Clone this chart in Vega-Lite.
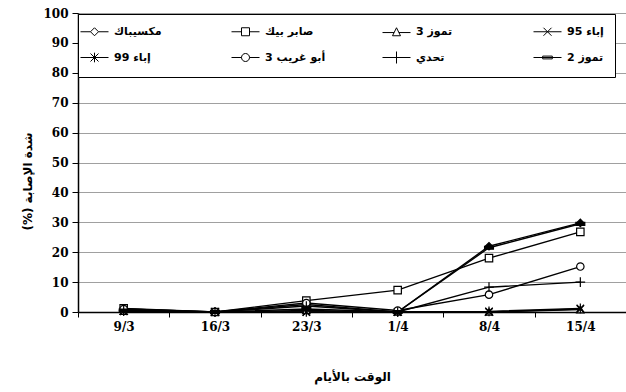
{
  "$schema": "https://vega.github.io/schema/vega-lite/v6.json",
  "width": 548,
  "height": 299,
  "autosize": "none",
  "padding": {"left": 78, "top": 13, "right": 0, "bottom": 80},
  "background": "white",
  "config": {"view": {"stroke": null}, "font": "Liberation Serif"},
  "data": {"values": [
    {"date": "9/3", "variety": "مكسيباك", "value": 1},
    {"date": "16/3", "variety": "مكسيباك", "value": 0},
    {"date": "23/3", "variety": "مكسيباك", "value": 2.5},
    {"date": "1/4", "variety": "مكسيباك", "value": 0},
    {"date": "8/4", "variety": "مكسيباك", "value": 22},
    {"date": "15/4", "variety": "مكسيباك", "value": 29.8},
    {"date": "9/3", "variety": "صابر بيك", "value": 1.2},
    {"date": "16/3", "variety": "صابر بيك", "value": 0},
    {"date": "23/3", "variety": "صابر بيك", "value": 3.8},
    {"date": "1/4", "variety": "صابر بيك", "value": 7.3},
    {"date": "8/4", "variety": "صابر بيك", "value": 18},
    {"date": "15/4", "variety": "صابر بيك", "value": 26.8},
    {"date": "9/3", "variety": "تموز 3", "value": 0.3},
    {"date": "16/3", "variety": "تموز 3", "value": 0},
    {"date": "23/3", "variety": "تموز 3", "value": 0.5},
    {"date": "1/4", "variety": "تموز 3", "value": 0},
    {"date": "8/4", "variety": "تموز 3", "value": 0},
    {"date": "15/4", "variety": "تموز 3", "value": 0.8},
    {"date": "9/3", "variety": "إباء 95", "value": 0.2},
    {"date": "16/3", "variety": "إباء 95", "value": 0},
    {"date": "23/3", "variety": "إباء 95", "value": 0},
    {"date": "1/4", "variety": "إباء 95", "value": 0},
    {"date": "8/4", "variety": "إباء 95", "value": 0},
    {"date": "15/4", "variety": "إباء 95", "value": 1},
    {"date": "9/3", "variety": "إباء 99", "value": 0.3},
    {"date": "16/3", "variety": "إباء 99", "value": 0},
    {"date": "23/3", "variety": "إباء 99", "value": 0},
    {"date": "1/4", "variety": "إباء 99", "value": 0},
    {"date": "8/4", "variety": "إباء 99", "value": 0.2},
    {"date": "15/4", "variety": "إباء 99", "value": 1.2},
    {"date": "9/3", "variety": "أبو غريب 3", "value": 1},
    {"date": "16/3", "variety": "أبو غريب 3", "value": 0},
    {"date": "23/3", "variety": "أبو غريب 3", "value": 3},
    {"date": "1/4", "variety": "أبو غريب 3", "value": 0.5},
    {"date": "8/4", "variety": "أبو غريب 3", "value": 5.8},
    {"date": "15/4", "variety": "أبو غريب 3", "value": 15.2},
    {"date": "9/3", "variety": "تحدي", "value": 0.5},
    {"date": "16/3", "variety": "تحدي", "value": 0},
    {"date": "23/3", "variety": "تحدي", "value": 2},
    {"date": "1/4", "variety": "تحدي", "value": 0},
    {"date": "8/4", "variety": "تحدي", "value": 8.3},
    {"date": "15/4", "variety": "تحدي", "value": 10},
    {"date": "9/3", "variety": "تموز 2", "value": 0.5},
    {"date": "16/3", "variety": "تموز 2", "value": 0},
    {"date": "23/3", "variety": "تموز 2", "value": 1},
    {"date": "1/4", "variety": "تموز 2", "value": 0},
    {"date": "8/4", "variety": "تموز 2", "value": 21.5},
    {"date": "15/4", "variety": "تموز 2", "value": 29.5}
  ]},
  "encoding": {
    "x": {
      "field": "date", "type": "ordinal",
      "sort": ["9/3", "16/3", "23/3", "1/4", "8/4", "15/4"],
      "scale": {"type": "band", "paddingInner": 0, "paddingOuter": 0},
      "axis": {
        "tickBand": "extent", "grid": false, "labelAngle": 0,
        "domainColor": "black", "domainWidth": 1.5, "tickColor": "black", "tickSize": 5,
        "labelFont": "DejaVu Serif", "labelFontWeight": "bold", "labelFontSize": 12, "labelColor": "black", "labelPadding": 4,
        "title": "الوقت بالأيام", "titleFont": "DejaVu Sans", "titleFontSize": 12, "titleFontWeight": "bold", "titleColor": "black", "titlePadding": 39
      }
    },
    "y": {
      "field": "value", "type": "quantitative",
      "scale": {"domain": [0, 100]},
      "axis": {
        "values": [0, 10, 20, 30, 40, 50, 60, 70, 80, 90, 100],
        "grid": true, "gridColor": "#a0a0a0", "gridWidth": 1,
        "domainColor": "black", "domainWidth": 1.5, "tickColor": "black", "tickSize": 6,
        "labelFont": "DejaVu Serif", "labelFontWeight": "bold", "labelFontSize": 12, "labelColor": "black", "labelPadding": 4,
        "title": "شدة الإصابة (%)‏", "titleFont": "DejaVu Sans", "titleFontSize": 12, "titleFontWeight": "bold", "titleColor": "black", "titlePadding": 8, "titleY": 168
      }
    }
  },
  "layer": [
    {
      "mark": {"type": "line", "color": "black", "strokeWidth": 1.4},
      "encoding": {"detail": {"field": "variety"}}
    },
    {
      "mark": {"type": "point", "filled": true, "stroke": "black", "strokeWidth": 1.2, "size": 55, "opacity": 1},
      "encoding": {
        "shape": {
          "field": "variety", "type": "nominal", "legend": null,
          "scale": {
            "domain": ["مكسيباك", "صابر بيك", "تموز 3", "إباء 95", "إباء 99", "أبو غريب 3", "تحدي", "تموز 2"],
            "range": ["diamond", "square", "triangle-up", "M-1,-1L1,1M-1,1L1,-1", "M-1,-1L1,1M-1,1L1,-1M0,-1.3V1.3", "circle", "M-1.3,0H1.3M0,-1.3V1.3", "M-1.2,-0.4H1.2V0.4H-1.2Z"]
          }
        },
        "fill": {
          "field": "variety", "type": "nominal", "legend": null,
          "scale": {
            "domain": ["مكسيباك", "صابر بيك", "تموز 3", "إباء 95", "إباء 99", "أبو غريب 3", "تحدي", "تموز 2"],
            "range": ["black", "white", "white", "black", "black", "white", "black", "black"]
          }
        }
      }
    },
    {
      "mark": {"type": "point", "filled": false, "color": "black", "opacity": 0, "size": 64},
      "encoding": {
        "shape": {
          "field": "variety", "type": "nominal",
          "scale": {
            "domain": ["مكسيباك", "صابر بيك", "تموز 3", "إباء 95", "إباء 99", "أبو غريب 3", "تحدي", "تموز 2"],
            "range": [
              "M-3.5,0H-1M1,0H3.5M-1,0L0,-1L1,0L0,1Z",
              "M-3.5,0H-1M1,0H3.5M-1,-1H1V1H-1Z",
              "M-3.5,0.2H-0.6M0.6,0.2H3.5M-1,1L0,-1L1,1Z",
              "M-3.5,0H3.5M-1,-1L1,1M-1,1L1,-1",
              "M-3.5,0H3.5M-1,-1L1,1M-1,1L1,-1M0,-1.2V1.2",
              "M-3.5,0H-1M1,0H3.5M-1,0A1,1 0 1,0 1,0A1,1 0 1,0 -1,0Z",
              "M-3.5,0H3.5M0,-1.5V1.5",
              "M-3.5,0H3.5M-1.2,-0.35H1.2V0.35H-1.2Z"
            ]
          },
          "legend": {
            "title": null, "orient": "none", "legendX": 0, "legendY": 1,
            "direction": "horizontal", "columns": 4, "gridAlign": "all",
            "symbolSize": 64, "symbolOpacity": 1, "symbolStrokeColor": "black", "symbolStrokeWidth": 1, "symbolFillColor": "white",
            "labelFont": "DejaVu Sans", "labelFontSize": 11, "labelFontWeight": "bold", "labelColor": "black", "labelOffset": 14,
            "strokeColor": "black", "fillColor": "white", "padding": 11,
            "columnPadding": 54, "rowPadding": 10
          }
        }
      }
    }
  ],
  "resolve": {"scale": {"shape": "independent"}}
}
